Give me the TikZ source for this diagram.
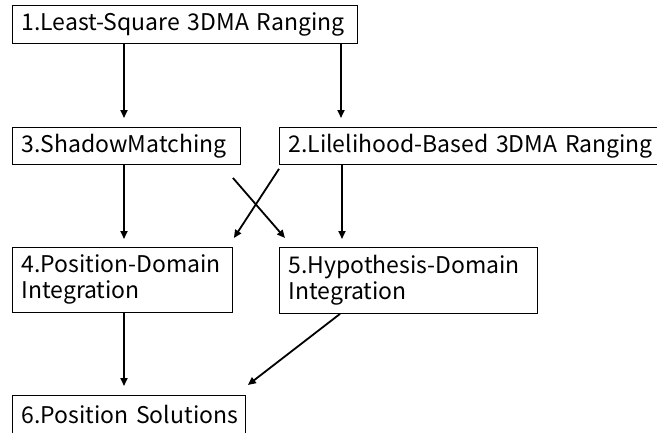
\documentclass[tikz,border=0pt]{standalone}
\usepackage{fontspec}
\setmainfont{Noto Sans CJK JP}
\usetikzlibrary{arrows.meta}
\begin{document}
\begin{tikzpicture}[x=1pt,y=-1pt,
  box/.style={draw=black, line width=0.9pt, anchor=north west, inner xsep=9pt, inner ysep=0pt,
    align=left, font=\fontsize{23}{26}\selectfont},
  arr/.style={line width=1.8pt, -{Triangle[length=8pt,width=7pt]}}]
\useasboundingbox (0,0) rectangle (657,432);
\node[box, minimum width=345pt, minimum height=38pt, text width=327pt] (n1) at (12,5) {\mbox{1.Least-Square 3DMA Ranging}};
\node[box, minimum width=228pt, minimum height=37pt, text width=210pt] (n3) at (12,127) {\mbox{3.ShadowMatching}};
\node[box, minimum width=400pt, minimum height=37pt, text width=382pt] (n2) at (279,127) {\mbox{2.Lilelihood-Based 3DMA Ranging}};
\node[box, minimum width=220pt, minimum height=65pt, text width=202pt] (n4) at (12,247) {\mbox{4.Position-Domain}\\\mbox{Integration}};
\node[box, minimum width=258pt, minimum height=66pt, text width=240pt] (n5) at (279,247) {\mbox{5.Hypothesis-Domain}\\\mbox{Integration}};
\node[box, minimum width=233pt, minimum height=38pt, text width=215pt] (n6) at (12,395) {\mbox{6.Position Solutions}};
\draw[arr] ([xshift=112pt]n1.south west) -- ([xshift=112pt,yshift=9pt]n3.north west);
\draw[arr] ([xshift=329pt]n1.south west) -- ([xshift=62pt,yshift=9pt]n2.north west);
\draw[arr] ([xshift=112pt]n3.south west) -- ([xshift=112pt,yshift=8pt]n4.north west);
\draw[arr] ([xshift=63pt]n2.south west) -- ([xshift=63pt,yshift=8pt]n5.north west);
\draw[arr] ([xshift=-8pt,yshift=-13pt]n3.south east) -- ([xshift=6pt,yshift=9pt]n5.north west);
\draw[arr] ([yshift=-4pt]n2.south west) -- ([xshift=1pt,yshift=9pt]n4.north east);
\draw[arr] ([xshift=112pt]n4.south west) -- ([xshift=112pt,yshift=9pt]n6.north west);
\draw[arr] ([xshift=61pt]n5.south west) -- ([xshift=2pt,yshift=10pt]n6.north east);
\end{tikzpicture}
\end{document}
